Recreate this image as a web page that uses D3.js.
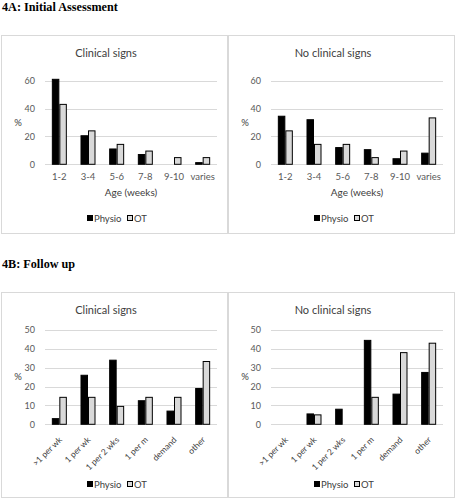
<!DOCTYPE html>
<html><head><meta charset="utf-8">
<script src="https://cdn.jsdelivr.net/npm/d3@7"></script>
<style>
body{margin:0;background:#fff;}
svg{display:block;}
</style></head>
<body><svg id="c" width="456" height="500"></svg>
<script>
// ---- data ----
const ageCategories = ["1-2","3-4","5-6","7-8","9-10","varies"];
const freqCategories = [">1 per wk","1 per wk","1 per 2 wks","1 per m","demand","other"];
const seriesNames = ["Physio","OT"];

const initClinicalPhysio = [61, 20.5, 11, 7, 0, 1.2];
const initClinicalOT     = [43, 24, 14.3, 9.5, 4.8, 4.8];
const initNoClinPhysio   = [34.5, 32, 12, 10.5, 4, 8];
const initNoClinOT       = [24, 14.3, 14.3, 4.8, 9.5, 33.3];

const fuClinicalPhysio = [3, 26, 34, 12.5, 7, 19];
const fuClinicalOT     = [14.3, 14.3, 9.5, 14.3, 14.3, 33.3];
const fuNoClinPhysio   = [0, 5.5, 8, 44.5, 16, 27.5];
const fuNoClinOT       = [0, 5, 0, 14.3, 38, 43];

const ticksInit = [0, 20, 40, 60];
const ticksFU = [0, 10, 20, 30, 40, 50];

const sectionTitles = ["4A: Initial Assessment", "4B: Follow up"];
const panelTitles = ["Clinical signs", "No clinical signs"];

// ---- drawing ----
const svg = d3.select("#c");
const FONT = "Lato, 'Open Sans', sans-serif";
const colors = {Physio: "#000000", OT: "#d9d9d9"};

svg.append("text").attr("x", 2).attr("y", 11)
  .attr("font-family", "'Liberation Serif','Times New Roman',serif")
  .attr("font-weight", "bold").attr("font-size", 12.2).attr("fill", "#000")
  .text(sectionTitles[0]);
svg.append("text").attr("x", 2).attr("y", 268)
  .attr("font-family", "'Liberation Serif','Times New Roman',serif")
  .attr("font-weight", "bold").attr("font-size", 12.2).attr("fill", "#000")
  .text(sectionTitles[1]);

function panel(o) {
  const g = svg.append("g").attr("transform", `translate(${o.x},${o.y})`);
  g.append("rect").attr("x", 0.5).attr("y", 0.5).attr("width", o.w).attr("height", o.h)
    .attr("fill", "#fff").attr("stroke", "#d9d9d9").attr("stroke-width", 1);

  const x0 = d3.scaleBand().domain(o.cats).range([o.left, o.right]).paddingInner(0.477).paddingOuter(0.2385);
  const x1 = d3.scaleBand().domain(seriesNames).range([0, x0.bandwidth()]);
  const y = d3.scaleLinear().domain([0, o.ticks[o.ticks.length - 1]]).range([o.bottom, o.top]);

  g.append("g").selectAll("line").data(o.ticks).join("line")
    .attr("x1", o.left).attr("x2", o.right)
    .attr("y1", d => Math.round(y(d)) + 0.5).attr("y2", d => Math.round(y(d)) + 0.5)
    .attr("stroke", "#d9d9d9").attr("stroke-width", 1);

  const ya = g.append("g").attr("transform", `translate(${o.left - 6},0)`)
    .call(d3.axisLeft(y).tickValues(o.ticks).tickSize(0).tickPadding(4));
  ya.select(".domain").remove();
  ya.selectAll("text").attr("font-family", FONT).attr("font-size", 9).attr("fill", "#595959");

  g.append("text").attr("x", 17).attr("y", (o.top + o.bottom) / 2 + 3)
    .attr("text-anchor", "middle").attr("font-family", FONT).attr("font-size", 9.5)
    .attr("fill", "#404040").text("%");

  g.append("text").attr("x", (o.left + o.right) / 2 + o.titleDx).attr("y", o.titleY)
    .attr("text-anchor", "middle").attr("font-family", FONT).attr("font-size", 11)
    .attr("fill", "#404040").text(o.title);

  const rows = o.cats.map((c, i) => ({cat: c, vals: [{k: "Physio", v: o.physio[i]}, {k: "OT", v: o.ot[i]}]}));
  g.append("g").selectAll("g").data(rows).join("g")
    .attr("transform", d => `translate(${x0(d.cat)},0)`)
    .selectAll("rect").data(d => d.vals.filter(e => e.v > 0)).join("rect")
    .attr("x", d => x1(d.k) + 0.5).attr("width", x1.bandwidth() - 1)
    .attr("y", d => y(d.v)).attr("height", d => y(0) - y(d.v))
    .attr("fill", d => colors[d.k]).attr("stroke", "#000").attr("stroke-width", 1);

  const xa = g.append("g").attr("transform", `translate(0,${o.bottom})`)
    .call(d3.axisBottom(x0).tickSize(0).tickPadding(o.rotate ? 6 : 9));
  xa.select(".domain").remove();
  const xt = xa.selectAll("text").attr("font-family", FONT).attr("font-size", o.rotate ? 8.5 : 9.5)
    .attr("fill", o.rotate ? "#404040" : "#595959");
  if (o.rotate) {
    xt.attr("text-anchor", "end").attr("dy", "0.35em")
      .attr("transform", "translate(1,14) rotate(-45)").attr("y", 0).attr("x", 0);
  }

  if (o.xlabel) {
    g.append("text").attr("x", (o.left + o.right) / 2).attr("y", o.xlabelY)
      .attr("text-anchor", "middle").attr("font-family", FONT).attr("font-size", 10)
      .attr("fill", "#404040").text(o.xlabel);
  }

  const lg = g.append("g").attr("transform", `translate(${o.w / 2 - 27},${o.legendY})`);
  seriesNames.forEach((s, i) => {
    const off = i === 0 ? 0 : 40;
    lg.append("rect").attr("x", off + 0.5).attr("y", -3.5).attr("width", 5).attr("height", 5)
      .attr("fill", colors[s]).attr("stroke", "#000").attr("stroke-width", 1);
    lg.append("text").attr("x", off + 7).attr("y", 0).attr("dy", "0.35em")
      .attr("font-family", FONT).attr("font-size", 9.5).attr("fill", "#404040").text(s);
  });
}

panel({x: 1, y: 35, w: 226, h: 198, left: 44, right: 216, top: 45.7, bottom: 129.3,
  cats: ageCategories, physio: initClinicalPhysio, ot: initClinicalOT, ticks: ticksInit,
  title: panelTitles[0], titleY: 22, titleDx: -25, xlabel: "Age (weeks)", xlabelY: 161, legendY: 184, rotate: false});
panel({x: 228, y: 35, w: 226, h: 198, left: 43, right: 215, top: 45.7, bottom: 129.3,
  cats: ageCategories, physio: initNoClinPhysio, ot: initNoClinOT, ticks: ticksInit,
  title: panelTitles[1], titleY: 22, titleDx: -24, xlabel: "Age (weeks)", xlabelY: 161, legendY: 184, rotate: false});
panel({x: 1, y: 292, w: 226, h: 205, left: 44, right: 216, top: 38, bottom: 132.3,
  cats: freqCategories, physio: fuClinicalPhysio, ot: fuClinicalOT, ticks: ticksFU,
  title: panelTitles[0], titleY: 22, titleDx: -25, xlabel: null, legendY: 193, rotate: true});
panel({x: 228, y: 292, w: 226, h: 205, left: 43, right: 215, top: 38, bottom: 132.3,
  cats: freqCategories, physio: fuNoClinPhysio, ot: fuNoClinOT, ticks: ticksFU,
  title: panelTitles[1], titleY: 22, titleDx: -24, xlabel: null, legendY: 193, rotate: true});
</script></body></html>
